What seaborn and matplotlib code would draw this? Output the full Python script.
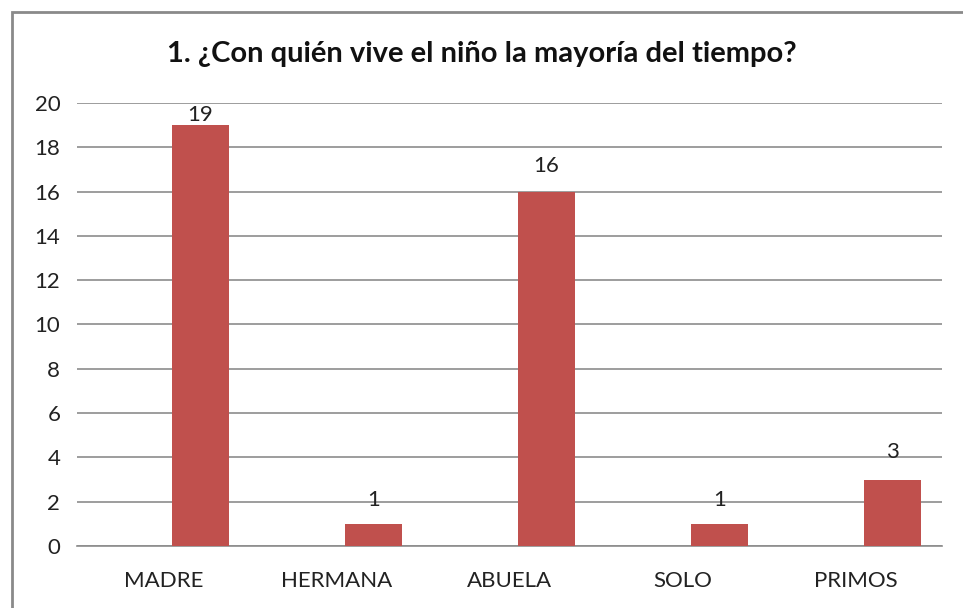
import pandas as pd
import matplotlib.pyplot as plt
import seaborn as sns
from matplotlib.patches import Rectangle

categorias = ['MADRE', 'HERMANA', 'ABUELA', 'SOLO', 'PRIMOS']
respuestas = [19, 1, 16, 1, 3]
vacio = [0, 0, 0, 0, 0]  # serie vacía que Excel deja a la izquierda
titulo = '1. ¿Con quién vive el niño la mayoría del tiempo?'
y_ticks = [0, 2, 4, 6, 8, 10, 12, 14, 16, 18, 20]

# desplazamiento de las etiquetas de datos (puntos), colocadas a mano en el original
label_offsets = [7, 17, 18.5, 17, 19.5]

df = pd.DataFrame({
    'categoria': categorias * 2,
    'valor': vacio + respuestas,
    'serie': ['s0'] * len(categorias) + ['s1'] * len(categorias),
})

sns.set_style('white')
plt.rcParams['font.family'] = ['Lato', 'DejaVu Sans']

fig = plt.figure(figsize=(9.63, 6.08), dpi=100)
ax = fig.add_axes([0.080, 0.102, 0.898, 0.7286])

sns.barplot(data=df, x='categoria', y='valor', hue='serie', order=categorias,
            palette=['#C0504D', '#C0504D'], saturation=1, width=0.857, gap=0.23,
            legend=False, ax=ax, zorder=3, linewidth=0)

ax.set_ylim(0, 20)
ax.set_xlim(-0.5, len(categorias) - 0.5)
ax.set_yticks(y_ticks)
ax.yaxis.grid(True, color='#8C8C8C', linewidth=1.2, zorder=0)
ax.set_axisbelow(True)
for s in ['top', 'right', 'left']:
    ax.spines[s].set_visible(False)
ax.spines['bottom'].set_color('#8C8C8C')
ax.spines['bottom'].set_linewidth(1.2)
ax.tick_params(axis='y', length=0, pad=12, labelsize=16, labelcolor='#222222')
ax.tick_params(axis='x', length=0, pad=18, labelsize=16, labelcolor='#222222')
ax.set_xlabel('')
ax.set_ylabel('')

bars = [p for p in ax.patches if p.get_height() > 0]
bars.sort(key=lambda p: p.get_x())
for p, v, off in zip(bars, respuestas, label_offsets):
    ax.annotate(str(v), (p.get_x() + p.get_width() / 2, p.get_height()),
                xytext=(0, off), textcoords='offset points',
                ha='center', va='center', fontsize=16, color='#222222')

fig.text(0.5, 0.912, titulo, ha='center', va='center',
         fontsize=21, fontweight='bold', color='#111111')

fig.patches.append(Rectangle((12 / 963, -0.1), 1.2, 1.1 - 12 / 608,
                             transform=fig.transFigure, fill=False,
                             edgecolor='#8A8A8A', linewidth=2))

plt.savefig('out.png', dpi=100)
